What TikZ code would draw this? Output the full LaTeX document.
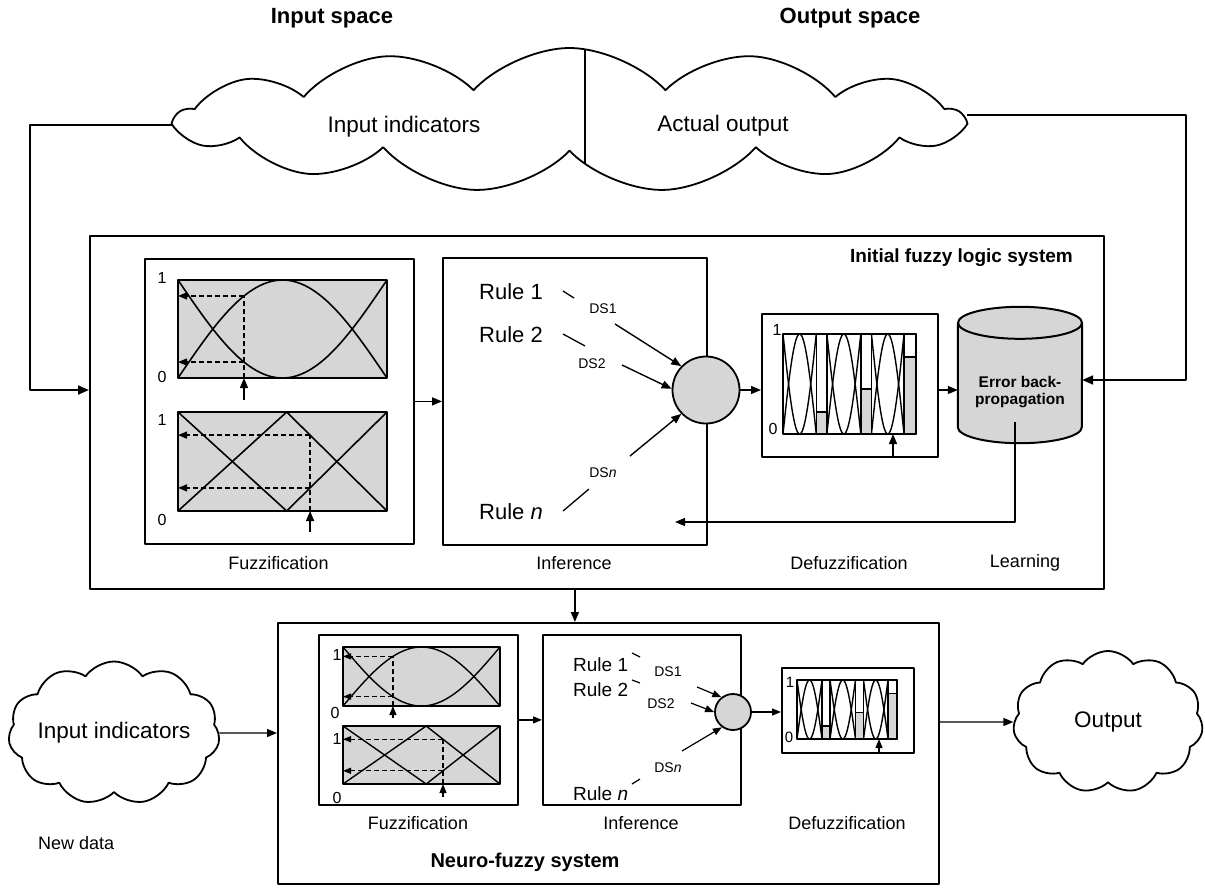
\documentclass[tikz,border=0pt]{standalone}
\usepackage{fontspec}
\setmainfont{Liberation Sans}
\usetikzlibrary{shapes.symbols,arrows.meta,calc}
\definecolor{panelgray}{RGB}{214,214,214}

\tikzset{
  frame/.style={draw, line width=2pt, anchor=north west, inner sep=0},
  box/.style={draw, line width=1.8pt, anchor=north west, inner sep=0},
  arr/.style={line width=1.4pt, -{Triangle[length=10pt,width=8pt]}},
  fb/.style={line width=2pt, -{Triangle[length=11pt,width=9pt]}},
  mf/.style={line width=1.6pt},
  proj/.style={line width=1.3pt, dash pattern=on 5pt off 3pt},
  projarr/.style={proj, -{Triangle[length=9pt,width=7pt]}},
  pborder/.style={line width=2pt},
  barline/.style={line width=1.5pt},
  cloudbox/.style={cloud, draw, line width=1.8pt, fill=white, cloud ignores aspect, inner sep=0},
  head/.style={font=\fontsize{22}{26}\selectfont\bfseries, inner sep=0},
  title/.style={font=\fontsize{19}{23}\selectfont\bfseries, inner sep=0},
  lbl/.style={font=\fontsize{18}{21}\selectfont, inner sep=0},
  cloudtxt/.style={font=\fontsize{22.5}{26}\selectfont},
  rulebig/.style={font=\fontsize{22}{26}\selectfont, inner sep=0, anchor=west},
  rulesmall/.style={font=\fontsize{19}{22}\selectfont, inner sep=0, anchor=west},
  dslbl/.style={font=\fontsize{14}{16}\selectfont, inner sep=0},
  num/.style={font=\fontsize{16}{18}\selectfont, inner sep=0},
  numsmall/.style={font=\fontsize{15}{17}\selectfont, inner sep=0},
  agg/.style={circle, draw, line width=1.8pt, fill=panelgray, inner sep=0},
}

% membership panel with a bell and an inverted bell
\newcommand\sinepanel[6]{%
  \fill[panelgray] (#1,#2) rectangle ++(#3,#4);
  \draw[mf] plot[domain=0:1,samples=60] ({#1+#3*\x},{#2+#4-#4*sin(180*\x)});
  \draw[mf] plot[domain=0:1,samples=60] ({#1+#3*\x},{#2+#4*sin(180*\x)});
  \pgfmathsetmacro\inx{#1+#3*#5}
  \pgfmathsetmacro\yhi{#2+#4-#4*sin(180*#5)}
  \pgfmathsetmacro\ylo{#2+#4*sin(180*#5)}
  \draw[proj] (\inx,#2+#4) -- (\inx,\yhi);
  \draw[projarr] (\inx,\yhi) -- (#1,\yhi);
  \draw[projarr] (\inx,\ylo) -- (#1,\ylo);
  \draw[pborder] (#1,#2) rectangle ++(#3,#4);
  \draw[arr] (\inx,#2+#4+#6) -- (\inx,#2+#4);
}

% membership panel with two triangular functions
\newcommand\tripanel[7]{%
  \fill[panelgray] (#1,#2) rectangle ++(#3,#4);
  \pgfmathsetmacro\pk{#1+#3*#5}
  \draw[mf] (#1,#2+#4) -- (\pk,#2) -- (#1+#3,#2+#4);
  \draw[mf] (#1,#2) -- (\pk,#2+#4) -- (#1+#3,#2);
  \pgfmathsetmacro\inx{#1+#3*#6}
  \pgfmathsetmacro\mfv{(#6-#5)/(1-#5)}
  \pgfmathsetmacro\yhi{#2+#4*\mfv}
  \pgfmathsetmacro\ylo{#2+#4-#4*\mfv}
  \draw[proj] (\inx,#2+#4) -- (\inx,\yhi);
  \draw[projarr] (\inx,\yhi) -- (#1,\yhi);
  \draw[projarr] (\inx,\ylo) -- (#1,\ylo);
  \draw[pborder] (#1,#2) rectangle ++(#3,#4);
  \draw[arr] (\inx,#2+#4+#7) -- (\inx,#2+#4);
}

% output panel: three fuzzy sections, each followed by a level bar
\newcommand\defzpanel[4]{%
  \foreach \sa/\sb in {0/0.25, 0.33/0.585, 0.665/0.91} {
    \draw[line width=1.4pt] plot[domain=\sa:\sb,samples=40]
      ({#1+#3*\x},{#2+#4-#4*sin(180*(\x-\sa)/(\sb-\sa))});
    \draw[line width=1.4pt] plot[domain=\sa:\sb,samples=40]
      ({#1+#3*\x},{#2+#4*sin(180*(\x-\sa)/(\sb-\sa))});
  }
  \foreach \sa/\sb/\lv in {0.25/0.33/0.22, 0.585/0.665/0.45, 0.91/1/0.77} {
    \fill[panelgray] ({#1+#3*\sa},{#2+#4-#4*\lv}) rectangle ({#1+#3*\sb},{#2+#4});
    \draw[barline] ({#1+#3*\sa},#2) rectangle ({#1+#3*\sb},{#2+#4});
    \draw[barline] ({#1+#3*\sa},{#2+#4-#4*\lv}) -- ({#1+#3*\sb},{#2+#4-#4*\lv});
  }
  \draw[pborder] (#1,#2) rectangle ++(#3,#4);
}

\begin{document}
\begin{tikzpicture}[x=1pt,y=-1pt,line join=round]
\useasboundingbox (0,0) rectangle (1205,895);

% ---------- spaces ----------
\node[head] (inspace) at (332,18) {Input space};
\node[head] (outspace) at (850,18) {Output space};

\node[cloudbox, cloud puffs=13, cloud puff arc=95, minimum width=785, minimum height=144,
  path picture={\draw[line width=1.3pt] ([xshift=15.5pt]path picture bounding box.north)
    -- ([xshift=15.5pt]path picture bounding box.south);}] (topcloud) at (569.5,120) {};
\node[cloudtxt] (inind) at (404,127) {Input indicators};
\node[cloudtxt] (actout) at (723,126) {Actual output};

% ---------- initial fuzzy logic system ----------
\node[frame, minimum width=1014, minimum height=353] (frame1) at (89,235) {};
\node[title, anchor=east] (t1) at (1073,258) {Initial fuzzy logic system};

% fuzzification
\node[box, minimum width=269, minimum height=285] (fuzz1) at (144,258) {};
\node[lbl] (fuzz1l) at (278.5,563) {Fuzzification};
\sinepanel{178}{280}{209}{98}{0.3158}{22}
\tripanel{178}{412}{209}{99}{0.52}{0.632}{21}
\node[num] (f1a) at (162,278) {1};
\node[num] (f1b) at (162,377) {0};
\node[num] (f1c) at (162,420) {1};
\node[num] (f1d) at (162,520) {0};

% inference
\node[box, minimum width=264, minimum height=287] (inf1) at (442,257) {};
\node[lbl] (inf1l) at (574,563) {Inference};
\node[rulebig] (r11) at (479,292) {Rule 1};
\node[rulebig] (r12) at (479,335) {Rule 2};
\node[rulebig] (r1n) at (479,512) {Rule \textit{n}};
\node[dslbl] (ds11) at (603,309) {DS1};
\node[dslbl] (ds12) at (592,364) {DS2};
\node[dslbl] (ds1n) at (603,473) {DS\textit{n}};
\node[agg, minimum size=67] (agg1) at (706,390) {};
\coordinate (a11) at (563,291); \coordinate (b11) at (574,298);
\coordinate (a12) at (563,334); \coordinate (b12) at (585,346);
\coordinate (a1n) at (563,511); \coordinate (b1n) at (589,489);
\coordinate (c11) at (615,324);
\coordinate (c12) at (622,365);
\coordinate (c1n) at (630,456);
\draw[line width=1.3pt] (a11) -- (b11);
\draw[line width=1.3pt] (a12) -- (b12);
\draw[line width=1.3pt] (a1n) -- (b1n);
\draw[arr] (c11) -- (agg1.136);
\draw[arr] (c12) -- (agg1.178);
\draw[arr] (c1n) -- (agg1.224);

% defuzzification
\node[box, minimum width=176, minimum height=143] (defz1) at (761,313) {};
\node[lbl] (defz1l) at (849,563) {Defuzzification};
\defzpanel{783}{334}{133}{100}
\node[num] (d1a) at (777,330) {1};
\node[num] (d1b) at (773,429) {0};
\draw[arr] (893,456) -- (893,434);

% learning
\node[minimum width=124, minimum height=104, inner sep=0] (cyl) at (1020,375) {};
\fill[panelgray] (cyl.south west) -- (cyl.north west)
  arc[start angle=180, end angle=0, x radius=62pt, y radius=16pt]
  -- (cyl.south east) arc[start angle=0, end angle=-180, x radius=62pt, y radius=16pt] -- cycle;
\draw[pborder] (cyl.north) ellipse[x radius=62pt, y radius=16pt];
\draw[pborder] (cyl.north west) -- (cyl.south west)
  arc[start angle=180, end angle=360, x radius=62pt, y radius=16pt] -- (cyl.north east);
\node[font=\fontsize{15.5}{17}\selectfont\bfseries, align=center, inner sep=0] (cyltext) at (1020,392) {Error back-\\propagation};
\node[lbl] (lrnl) at (1025,563) {Learning};
\coordinate (lrn) at (1015,422);
\coordinate (lrnend) at (675,522);
\draw[arr] (lrn) |- (lrnend);

% flow inside the system
\draw[arr] (fuzz1) -- (fuzz1 -| inf1.west);
\draw[arr] (agg1) -- (agg1 -| defz1.west);
\draw[arr] (agg1 -| defz1.east) -- (agg1 -| cyl.west);

% feedback loops
\draw[fb] ([yshift=-5pt]topcloud.west) -- ++(-142,0) |- ([yshift=22.5pt]frame1.west);
\draw[fb] ([yshift=5pt]topcloud.east) -- ++(219,0) |- ([yshift=-5pt]cyl.east);

% ---------- neuro-fuzzy system ----------
\node[frame, minimum width=661, minimum height=261] (frame2) at (277,622) {};
\draw[arr] (inf1.south |- frame1.south) -- (inf1.south |- frame2.north);
\node[title, font=\fontsize{20}{24}\selectfont\bfseries] (t2) at (525,862) {Neuro-fuzzy system};

\begin{scope}[arr/.style={line width=1.2pt, -{Triangle[length=9pt,width=7pt]}},
  projarr/.style={proj, -{Triangle[length=8pt,width=6pt]}}, mf/.style={line width=1.4pt},
  pborder/.style={line width=1.8pt}]
\node[box, minimum width=199, minimum height=170] (fuzz2) at (318,634) {};
\node[lbl] (fuzz2l) at (418,823) {Fuzzification};
\sinepanel{343}{647}{157}{59}{0.318}{12}
\tripanel{343}{726}{157}{58}{0.53}{0.637}{13}
\node[num] (f2a) at (337,655) {1};
\node[num] (f2b) at (335,713) {0};
\node[num] (f2c) at (337,739) {1};
\node[num] (f2d) at (337,798) {0};

\node[box, minimum width=198, minimum height=170] (inf2) at (542,634) {};
\node[lbl] (inf2l) at (641,823) {Inference};
\node[rulesmall] (r21) at (573,665) {Rule 1};
\node[rulesmall] (r22) at (573,690) {Rule 2};
\node[rulesmall] (r2n) at (573,794) {Rule \textit{n}};
\node[dslbl] (ds21) at (668,672) {DS1};
\node[dslbl] (ds22) at (661,704) {DS2};
\node[dslbl] (ds2n) at (668,768) {DS\textit{n}};
\node[agg, minimum size=36] (agg2) at (733,712) {};
\coordinate (a21) at (632,653); \coordinate (b21) at (640,657);
\coordinate (a22) at (632,680); \coordinate (b22) at (640,683);
\coordinate (a2n) at (632,784); \coordinate (b2n) at (640,779);
\coordinate (c21) at (697,687);
\coordinate (c22) at (691,703);
\coordinate (c2n) at (682,751);
\draw[line width=1.2pt] (a21) -- (b21);
\draw[line width=1.2pt] (a22) -- (b22);
\draw[line width=1.2pt] (a2n) -- (b2n);
\draw[arr] (c21) -- (agg2.128);
\draw[arr] (c22) -- (agg2.180);
\draw[arr] (c2n) -- (agg2.234);

\node[box, minimum width=132, minimum height=85] (defz2) at (781,667) {};
\node[lbl] (defz2l) at (847,823) {Defuzzification};
\defzpanel{797}{680}{100}{59}
\node[numsmall] (d2a) at (790,682) {1};
\node[numsmall] (d2b) at (789,737) {0};
\draw[arr] (879,752) -- (879,739);

\draw[arr] (fuzz2) -- (fuzz2 -| inf2.west);
\draw[arr] (agg2) -- (agg2 -| defz2.west);
\end{scope}

% new data and output
\node[cloudbox, cloud puffs=11, cloud puff arc=110, minimum width=199, minimum height=143,
  cloudtxt] (incloud) at (114,733) {Input indicators};
\node[lbl, anchor=west] (newdata) at (38,843) {New data};
\node[cloudbox, cloud puffs=11, cloud puff arc=110, minimum width=190, minimum height=142,
  cloudtxt] (outcloud) at (1108,722) {Output};
\draw[arr] (incloud) -- (incloud -| frame2.west);
\draw[arr] (outcloud -| frame2.east) -- (outcloud);

\end{tikzpicture}
\end{document}
